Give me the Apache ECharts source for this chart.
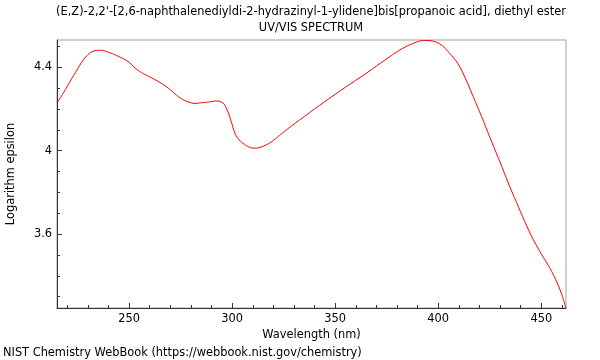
<!DOCTYPE html>
<html>
<head>
<meta charset="utf-8">
<script src="https://cdn.jsdelivr.net/npm/echarts@6/dist/echarts.min.js"></script>
<style>
  html, body { margin: 0; padding: 0; background: #fff; }
  #chart { width: 600px; height: 360px; }
</style>
</head>
<body>
<div id="chart"></div>
<script>
const TITLE = "(E,Z)-2,2'-[2,6-naphthalenediyldi-2-hydrazinyl-1-ylidene]bis[propanoic acid], diethyl ester";
const SUBTITLE = "UV/VIS SPECTRUM";
const FOOTER = "NIST Chemistry WebBook (https://webbook.nist.gov/chemistry)";

const wavelengths = [
  215, 218, 220, 222, 224, 226, 228, 230, 232, 234, 236, 238, 240, 242, 244, 246, 248, 250,
  252, 254, 256, 258, 260, 262, 264, 266, 268, 270, 272, 274, 276, 278, 280, 282, 284, 286,
  288, 290, 292, 294, 296, 298, 300, 301, 302, 304, 306, 308, 310, 312, 314, 316, 318, 320,
  322, 324, 326, 328, 330, 335, 340, 345, 350, 355, 360, 365, 370, 375, 380, 385, 390, 393,
  396, 399, 402, 405, 408, 410, 412, 414, 416, 418, 420, 422, 424, 426, 428, 430, 432, 434,
  436, 438, 440, 442, 444, 446, 448, 450, 452, 454, 456, 458, 460, 462
];
const logEpsilon = [
  4.228, 4.275, 4.308, 4.343, 4.375, 4.408, 4.438, 4.46, 4.474, 4.48, 4.481, 4.478, 4.471, 4.464, 4.455, 4.446, 4.436, 4.423,
  4.404, 4.387, 4.374, 4.363, 4.353, 4.343, 4.332, 4.32, 4.307, 4.291, 4.274, 4.258, 4.245, 4.236, 4.229, 4.226, 4.228, 4.23,
  4.232, 4.235, 4.238, 4.236, 4.224, 4.185, 4.125, 4.092, 4.07, 4.045, 4.03, 4.018, 4.012, 4.012, 4.017, 4.025, 4.035, 4.049,
  4.065, 4.081, 4.097, 4.112, 4.127, 4.163, 4.2, 4.235, 4.27, 4.304, 4.337, 4.37, 4.405, 4.44, 4.474, 4.502, 4.522, 4.528,
  4.527, 4.52, 4.503, 4.472, 4.438, 4.41, 4.372, 4.328, 4.282, 4.235, 4.188, 4.14, 4.09, 4.041, 3.993, 3.945, 3.895, 3.845,
  3.797, 3.752, 3.705, 3.66, 3.616, 3.576, 3.54, 3.505, 3.473, 3.44, 3.403, 3.36, 3.31, 3.246
];

const xMajorTicks = [250, 300, 350, 400, 450];
const xMinorTicks = [220, 230, 240, 260, 270, 280, 290, 310, 320, 330, 340, 360, 370, 380, 390, 410, 420, 430, 440, 460];
const yMajorTicks = [3.6, 4.0, 4.4];
const yMinorTicks = [3.3, 3.4, 3.5, 3.7, 3.8, 3.9, 4.1, 4.2, 4.3, 4.5];

const X_MIN = 215;
const X_MAX = 462;
const Y_MIN = 3.246;
const Y_MAX = 4.53;

const FONT = "DejaVu Sans";
const FONT_SIZE = 11.4;
const AXIS_COLOR = "#333";

const chart = echarts.init(document.getElementById("chart"));

function minorAxis(base) {
  return Object.assign({
    type: "value",
    axisLine: { show: false },
    axisLabel: { show: false },
    splitLine: { show: false },
  }, base);
}

chart.setOption({
  animation: false,
  grid: {
    left: 57,
    right: 34,
    top: 40,
    bottom: 52,
    show: true,
    borderColor: "#a0a0a0",
    borderWidth: 1,
    outerBoundsMode: "none",
  },
  graphic: [
    {
      type: "text",
      x: 311,
      y: 7,
      style: { text: TITLE, font: `${FONT_SIZE}px "${FONT}"`, fill: "#000", textAlign: "center" },
    },
    {
      type: "text",
      x: 311,
      y: 23,
      style: { text: SUBTITLE, font: `${FONT_SIZE}px "${FONT}"`, fill: "#000", textAlign: "center" },
    },
    {
      type: "text",
      x: 3,
      y: 348,
      style: { text: FOOTER, font: `${FONT_SIZE}px "${FONT}"`, fill: "#000" },
    },
  ],
  xAxis: [
    {
      type: "value",
      min: X_MIN,
      max: X_MAX,
      name: "Wavelength (nm)",
      nameLocation: "middle",
      nameGap: 21,
      nameTextStyle: { fontFamily: FONT, fontSize: FONT_SIZE, color: "#000" },
      axisLine: { lineStyle: { color: AXIS_COLOR } },
      axisTick: {
        inside: true,
        length: 5,
        customValues: xMajorTicks,
        lineStyle: { color: AXIS_COLOR },
      },
      axisLabel: {
        customValues: xMajorTicks,
        fontFamily: FONT,
        fontSize: FONT_SIZE,
        color: "#000",
        margin: 6,
      },
      splitLine: { show: false },
    },
    minorAxis({
      min: X_MIN,
      max: X_MAX,
      position: "bottom",
      axisTick: {
        inside: true,
        length: 3,
        customValues: xMinorTicks,
        lineStyle: { color: AXIS_COLOR },
      },
    }),
  ],
  yAxis: [
    {
      type: "value",
      min: Y_MIN,
      max: Y_MAX,
      name: "Logarithm epsilon",
      nameLocation: "middle",
      nameGap: 40,
      nameTextStyle: { fontFamily: FONT, fontSize: FONT_SIZE, color: "#000" },
      axisLine: { show: true, lineStyle: { color: AXIS_COLOR } },
      axisTick: {
        show: true,
        inside: true,
        length: 5,
        customValues: yMajorTicks,
        lineStyle: { color: AXIS_COLOR },
      },
      axisLabel: {
        customValues: yMajorTicks,
        formatter: (v) => String(Math.round(v * 10) / 10),
        fontFamily: FONT,
        fontSize: FONT_SIZE,
        color: "#000",
        margin: 5,
      },
      splitLine: { show: false },
    },
    minorAxis({
      min: Y_MIN,
      max: Y_MAX,
      position: "left",
      axisTick: {
        show: true,
        inside: true,
        length: 3,
        customValues: yMinorTicks,
        lineStyle: { color: AXIS_COLOR },
      },
    }),
  ],
  series: [
    {
      type: "line",
      data: wavelengths.map((w, i) => [w, logEpsilon[i]]),
      smooth: 0.3,
      showSymbol: false,
      clip: true,
      lineStyle: { color: "#ff0000", width: 1 },
    },
  ],
});
</script>
</body>
</html>
